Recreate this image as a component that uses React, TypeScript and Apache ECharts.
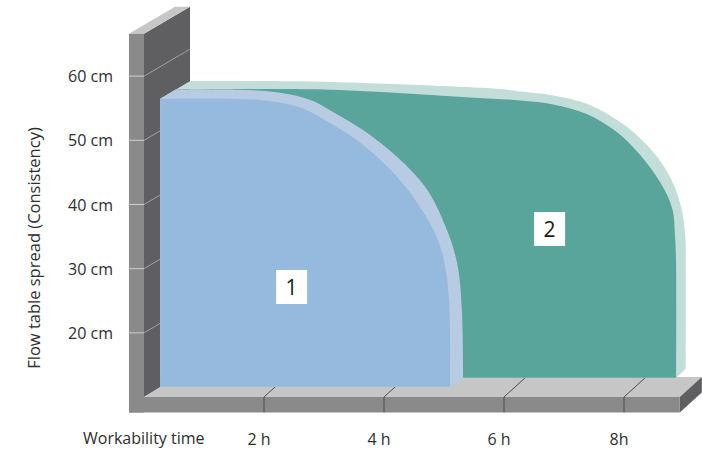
import React, { useEffect, useRef } from 'react';
import * as echarts from 'echarts';

// Axis ticks and labels
const hourTicks = [2, 4, 6, 8];
const hourLabels = ['2 h', '4 h', '6 h', '8h'];
const cmTicks = [20, 30, 40, 50, 60];
const cmLabels = ['20 cm', '30 cm', '40 cm', '50 cm', '60 cm'];

// Series 1 (blue) – front face outline (hours, cm)
const blueFaceStart = [[0.27, 11.6]];
const blueFaceCurve = [
  [0.27, 56.5], [1.43, 56.5], [2.1, 56.1], [2.6, 55.1], [3.1, 52.7], [3.65, 49.3],
  [4.22, 44.3], [4.6, 39.6], [4.88, 34.9], [5.02, 30.3], [5.08, 25.6], [5.1, 20.5], [5.1, 11.6],
];
const blueFaceEnd: number[][] = [];

// Series 1 (blue) – extruded edge outline
const blueEdgeStart = [[0.27, 11.6], [0.27, 56.5]];
const blueEdgeCurve = [
  [0.52, 57.9], [1.6, 57.9], [2.27, 57.4], [2.77, 56.3], [3.1, 54.7], [3.65, 51.6],
  [4.22, 47.4], [4.72, 42.3], [5.05, 36.0], [5.23, 30.3], [5.3, 23.1], [5.32, 13.0],
];
const blueEdgeEnd = [[5.1, 11.6]];

// Series 2 (green) – front face outline
const greenFaceStart = [[0.27, 13.0], [0.27, 56.5]];
const greenFaceCurve = [
  [0.52, 57.9], [3.1, 57.9], [5.6, 56.6], [6.27, 56.2], [6.82, 55.6], [7.38, 54.1],
  [7.88, 51.3], [8.27, 47.7], [8.6, 43.5], [8.8, 39.5], [8.85, 35.3], [8.87, 29.0], [8.87, 13.0],
];
const greenFaceEnd: number[][] = [];

// Series 2 (green) – extruded edge outline
const greenEdgeStart = [[0.27, 13.0], [0.27, 56.5]];
const greenEdgeCurve = [
  [0.77, 59.25], [3.1, 59.1], [5.6, 58.2], [6.27, 57.6], [6.82, 57.0], [7.38, 55.7],
  [7.93, 52.9], [8.38, 49.3], [8.72, 45.1], [8.93, 40.4], [9.02, 35.3], [9.03, 29.0], [9.03, 14.4],
];
const greenEdgeEnd = [[8.87, 13.0]];

// Number markers
const markerNames = ['1', '2'];
const markerHours = [2.46, 6.76];
const markerCm = [27.15, 36.2];

// Wall / floor extents (data units)
const wallLeft = -0.25;
const wallTop = 66.6;
const floorTop = 10;
const floorBottom = 7.6;
const floorRight = 8.93;

const FONT = '"Open Sans", sans-serif';
const TEXT = '#2e2e2e';

function shapePath(api: any, start: number[][], curve: number[][], end: number[][]) {
  const px = (p: number[]) => api.coord(p);
  const s = start.map(px);
  const cv = curve.map(px);
  const e = end.map(px);
  let d = `M ${s[0][0]} ${s[0][1]}`;
  for (let i = 1; i < s.length; i++) d += ` L ${s[i][0]} ${s[i][1]}`;
  d += ` L ${cv[0][0]} ${cv[0][1]}`;
  for (let i = 0; i < cv.length - 1; i++) {
    const p0 = cv[Math.max(i - 1, 0)];
    const p1 = cv[i];
    const p2 = cv[i + 1];
    const p3 = cv[Math.min(i + 2, cv.length - 1)];
    const c1 = [p1[0] + (p2[0] - p0[0]) / 6, p1[1] + (p2[1] - p0[1]) / 6];
    const c2 = [p2[0] - (p3[0] - p1[0]) / 6, p2[1] - (p3[1] - p1[1]) / 6];
    d += ` C ${c1[0]} ${c1[1]} ${c2[0]} ${c2[1]} ${p2[0]} ${p2[1]}`;
  }
  for (const p of e) d += ` L ${p[0]} ${p[1]}`;
  d += ' Z';
  return d;
}

function shapeSeries(name: string, start: number[][], curve: number[][], end: number[][], fill: string, z: number) {
  return {
    name,
    type: 'custom',
    coordinateSystem: 'cartesian2d',
    z,
    silent: true,
    data: [[curve[0][0], curve[0][1]]],
    renderItem: (_p: any, api: any) => ({
      type: 'path',
      shape: { pathData: shapePath(api, start, curve, end) },
      style: { fill, stroke: null },
    }),
  };
}

const add = (p: number[], d: number[]) => [p[0] + d[0], p[1] + d[1]];

function structureItem(_p: any, api: any) {
  const c = (x: number, y: number) => api.coord([x, y]);
  const WD = [46, -27];
  const FD = [22, -20];
  const CD = [16, -10];
  const wTL = c(wallLeft, wallTop);
  const wTR = c(0, wallTop);
  const F = c(0, floorTop);
  const FL = c(wallLeft, floorTop);
  const R = c(floorRight, floorTop);
  const RB = c(floorRight, floorBottom);
  const BL = c(wallLeft, floorBottom);
  const children: any[] = [
    { type: 'polygon', shape: { points: [wTR, add(wTR, WD), add(F, WD), F] }, style: { fill: '#5f5f61' } },
    { type: 'polygon', shape: { points: [wTL, wTR, add(wTR, WD), add(wTL, WD)] }, style: { fill: '#c6c6c7' } },
    { type: 'polygon', shape: { points: [F, add(F, CD), add(F, FD), add(R, FD), R] }, style: { fill: '#c6c6c7' } },
    { type: 'polygon', shape: { points: [R, add(R, FD), add(RB, FD), RB] }, style: { fill: '#5f5f61' } },
    { type: 'rect', shape: { x: wTL[0], y: wTL[1], width: wTR[0] - wTL[0], height: BL[1] - wTL[1] }, style: { fill: '#8a8a8b' } },
    { type: 'rect', shape: { x: FL[0], y: FL[1], width: RB[0] - FL[0], height: RB[1] - FL[1] }, style: { fill: '#8a8a8b' } },
  ];
  cmTicks.forEach((v) => {
    const a = c(wallLeft, v);
    const b = c(0, v);
    children.push({ type: 'line', shape: { x1: a[0], y1: a[1], x2: b[0], y2: b[1] }, style: { stroke: '#cfcfcf', lineWidth: 1 } });
    const e = add(b, WD);
    children.push({ type: 'line', shape: { x1: b[0], y1: b[1], x2: e[0], y2: e[1] }, style: { stroke: '#a0a0a0', lineWidth: 1 } });
  });
  hourTicks.forEach((h) => {
    const a = c(h, floorBottom);
    const b = c(h, floorTop);
    const e = add(b, FD);
    children.push({ type: 'polyline', shape: { points: [a, b, e] }, style: { stroke: '#4d4d4d', lineWidth: 1, fill: null } });
  });
  return { type: 'group', children };
}

export default function App() {
  const ref = useRef<HTMLDivElement>(null);
  useEffect(() => {
    if (!ref.current) return;
    const chart = echarts.init(ref.current, null, { renderer: 'svg' });
    chart.setOption({
      animation: false,
      backgroundColor: '#ffffff',
      grid: { left: 144, right: 18, top: 12, bottom: 55, containLabel: false, outerBoundsMode: 'none' },
      xAxis: {
        type: 'value',
        min: 0,
        max: 9,
        interval: 2,
        axisLine: { show: false },
        axisTick: { show: false },
        splitLine: { show: false },
        axisLabel: {
          margin: 34,
          fontSize: 16,
          fontFamily: FONT,
          color: TEXT,
          padding: [0, 10, 0, 0],
          formatter: (v: number) => {
            const i = hourTicks.indexOf(v);
            return i >= 0 ? hourLabels[i] : '';
          },
        },
      },
      yAxis: {
        type: 'value',
        min: 10,
        max: 70,
        interval: 10,
        axisLine: { show: false },
        axisTick: { show: false },
        splitLine: { show: false },
        axisLabel: {
          margin: 31,
          fontSize: 16,
          fontFamily: FONT,
          color: TEXT,
          formatter: (v: number) => {
            const i = cmTicks.indexOf(v);
            return i >= 0 ? cmLabels[i] : '';
          },
        },
      },
      graphic: [
        {
          type: 'text',
          x: 83,
          y: 438,
          style: { text: 'Workability time', fontSize: 16, fontFamily: FONT, fill: TEXT, align: 'left', verticalAlign: 'middle' },
        },
        {
          type: 'text',
          x: 33,
          y: 248,
          rotation: Math.PI / 2,
          style: { text: 'Flow table spread (Consistency)', fontSize: 16.5, fontFamily: FONT, fill: TEXT, align: 'center', verticalAlign: 'middle' },
        },
      ],
      series: [
        {
          name: 'structure',
          type: 'custom',
          coordinateSystem: 'cartesian2d',
          z: 1,
          silent: true,
          data: [[0, floorTop]],
          renderItem: structureItem,
        },
        shapeSeries('2 edge', greenEdgeStart, greenEdgeCurve, greenEdgeEnd, '#c3ded9', 2),
        shapeSeries('2', greenFaceStart, greenFaceCurve, greenFaceEnd, '#5aa59b', 3),
        shapeSeries('1 edge', blueEdgeStart, blueEdgeCurve, blueEdgeEnd, '#b7cce3', 4),
        shapeSeries('1', blueFaceStart, blueFaceCurve, blueFaceEnd, '#96b9de', 5),
        {
          name: 'markers',
          type: 'scatter',
          z: 6,
          silent: true,
          symbol: 'rect',
          symbolSize: [31, 34],
          itemStyle: { color: '#ffffff', opacity: 1 },
          label: {
            show: true,
            position: 'inside',
            formatter: '{b}',
            fontSize: 21,
            fontFamily: FONT,
            color: '#1a1a1a',
          },
          data: markerNames.map((n, i) => ({ name: n, value: [markerHours[i], markerCm[i]] })),
        },
      ],
    });
    return () => chart.dispose();
  }, []);
  return <div ref={ref} style={{ position: 'fixed', left: 0, top: 0, width: 702, height: 452, background: '#fff' }} />;
}
